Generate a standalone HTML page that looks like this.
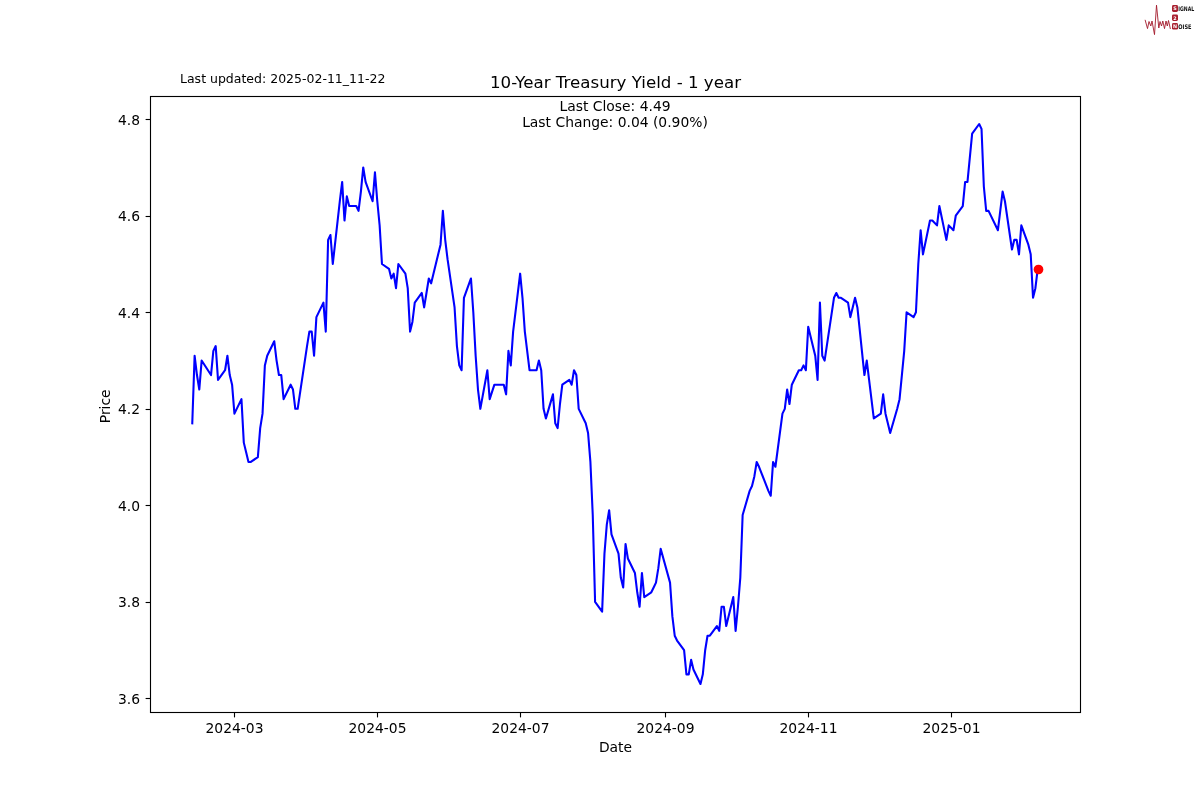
<!DOCTYPE html>
<html lang="en"><head><meta charset="utf-8"><title>10-Year Treasury Yield - 1 year</title>
<style>
html,body{margin:0;padding:0;background:#fff;}
body{width:1200px;height:800px;overflow:hidden;}
svg{display:block;}
text{font-family:"DejaVu Sans","Liberation Sans",sans-serif;fill:#000;}
.t{font-size:13.889px;}
.tt{font-size:16.667px;}
.ts{font-size:12.5px;}
.lg{font-family:"Liberation Sans","DejaVu Sans",sans-serif;font-weight:bold;}
</style></head><body>
<svg width="1200" height="800" viewBox="0 0 1200 800">
<rect x="0" y="0" width="1200" height="800" fill="#fff"/>
<g id="plot"><path d="M192.27 423.31 L194.61 355.72 L196.96 375.03 L199.30 389.52 L201.64 360.55 L211.01 375.03 L213.35 350.90 L215.69 346.07 L218.03 379.86 L225.06 370.21 L227.40 355.72 L229.74 375.03 L232.09 384.69 L234.43 413.66 L241.45 399.17 L243.80 442.62 L246.14 452.28 L248.48 461.93 L250.82 461.93 L257.85 457.10 L260.19 428.14 L262.53 413.66 L264.87 365.38 L267.22 355.72 L274.24 341.24 L276.58 360.55 L278.93 375.03 L281.27 375.03 L283.61 399.17 L290.64 384.69 L292.98 389.52 L295.32 408.83 L297.66 408.83 L307.03 346.07 L309.37 331.59 L311.71 331.59 L314.06 355.72 L316.40 317.10 L323.42 302.62 L325.77 331.59 L328.11 239.86 L330.45 235.03 L332.79 264.00 L339.82 201.24 L342.16 181.93 L344.50 220.55 L346.84 196.41 L349.19 206.07 L356.21 206.07 L358.55 210.90 L360.90 191.59 L363.24 167.45 L365.58 181.93 L372.61 201.24 L374.95 172.28 L377.29 201.24 L379.63 225.38 L381.97 264.00 L389.00 268.83 L391.34 278.48 L393.68 273.66 L396.02 288.14 L398.37 264.00 L405.39 273.66 L407.73 288.14 L410.08 331.59 L412.42 321.93 L414.76 302.62 L421.79 292.97 L424.13 307.45 L426.47 292.97 L428.81 278.48 L431.15 283.31 L440.52 244.69 L442.86 210.90 L445.21 239.86 L447.55 259.17 L454.57 307.45 L456.92 346.07 L459.26 365.38 L461.60 370.21 L463.94 297.79 L470.97 278.48 L473.31 312.28 L475.65 355.72 L477.99 389.52 L480.34 408.83 L487.36 370.21 L489.70 399.17 L494.39 384.69 L496.73 384.69 L503.76 384.69 L506.10 394.34 L508.44 350.90 L510.78 365.38 L513.12 331.59 L520.15 273.66 L522.49 297.79 L524.83 331.59 L529.52 370.21 L536.54 370.21 L538.89 360.55 L541.23 370.21 L543.57 408.83 L545.91 418.48 L552.94 394.34 L555.28 423.31 L557.62 428.14 L559.96 404.00 L562.31 384.69 L569.33 379.86 L571.67 384.69 L574.02 370.21 L576.36 375.03 L578.70 408.83 L585.73 423.31 L588.07 432.97 L590.41 461.93 L592.75 515.03 L595.09 601.93 L602.12 611.59 L604.46 553.66 L606.80 524.69 L609.15 510.21 L611.49 534.34 L618.51 553.66 L620.85 577.79 L623.20 587.45 L625.54 544.00 L627.88 558.48 L634.91 572.97 L637.25 592.28 L639.59 606.76 L641.93 572.97 L644.27 597.10 L651.30 592.28 L653.64 587.45 L655.98 582.62 L658.33 568.14 L660.67 548.83 L670.04 582.62 L672.38 616.41 L674.72 635.72 L677.06 640.55 L684.09 650.21 L686.43 674.34 L688.77 674.34 L691.11 659.86 L693.46 669.52 L700.48 684.00 L702.82 674.34 L705.17 650.21 L707.51 635.72 L709.85 635.72 L716.88 626.07 L719.22 630.90 L721.56 606.76 L723.90 606.76 L726.24 626.07 L733.27 597.10 L735.61 630.90 L737.95 606.76 L740.30 577.79 L742.64 515.03 L749.66 490.90 L752.01 486.07 L754.35 476.41 L756.69 461.93 L759.03 466.76 L768.40 490.90 L770.74 495.72 L773.08 461.93 L775.43 466.76 L782.45 413.66 L784.79 408.83 L787.14 389.52 L789.48 404.00 L791.82 384.69 L798.85 370.21 L801.19 370.21 L803.53 365.38 L805.87 370.21 L808.21 326.76 L815.24 355.72 L817.58 379.86 L819.92 302.62 L822.27 355.72 L824.61 360.55 L833.98 297.79 L836.32 292.97 L838.66 297.79 L841.00 297.79 L848.03 302.62 L850.37 317.10 L852.71 307.45 L855.05 297.79 L857.39 307.45 L864.42 375.03 L866.76 360.55 L869.10 379.86 L873.79 418.48 L880.81 413.66 L883.16 394.34 L885.50 413.66 L887.84 423.31 L890.18 432.97 L897.21 408.83 L899.55 399.17 L901.89 375.03 L904.23 350.90 L906.58 312.28 L913.60 317.10 L915.94 312.28 L918.29 264.00 L920.63 230.21 L922.97 254.34 L930.00 220.55 L932.34 220.55 L937.02 225.38 L939.36 206.07 L946.39 239.86 L948.73 225.38 L953.42 230.21 L955.76 215.72 L962.78 206.07 L965.13 181.93 L967.47 181.93 L972.15 133.66 L979.18 124.00 L981.52 128.83 L983.86 186.76 L986.20 210.90 L988.55 210.90 L997.91 230.21 L1000.26 210.90 L1002.60 191.59 L1004.94 201.24 L1011.97 249.52 L1014.31 239.86 L1016.65 239.86 L1018.99 254.34 L1021.33 225.38 L1028.36 244.69 L1030.70 254.34 L1033.04 297.79 L1035.39 288.14 L1037.73 268.83" fill="none" stroke="#0000ff" stroke-width="2.08" stroke-linejoin="round" stroke-linecap="square"/>
<circle cx="1038.50" cy="269.50" r="4.86" fill="#ff0000"/></g>
<rect x="150.5" y="96.5" width="930" height="616" fill="none" stroke="#000" stroke-width="1.11"/>
<g stroke="#000" stroke-width="1.11"><line x1="145.6" y1="119.5" x2="150.5" y2="119.5"/><line x1="145.6" y1="216.5" x2="150.5" y2="216.5"/><line x1="145.6" y1="312.5" x2="150.5" y2="312.5"/><line x1="145.6" y1="409.5" x2="150.5" y2="409.5"/><line x1="145.6" y1="505.5" x2="150.5" y2="505.5"/><line x1="145.6" y1="602.5" x2="150.5" y2="602.5"/><line x1="145.6" y1="698.5" x2="150.5" y2="698.5"/><line x1="234.5" y1="712.5" x2="234.5" y2="717.4"/><line x1="377.5" y1="712.5" x2="377.5" y2="717.4"/><line x1="520.5" y1="712.5" x2="520.5" y2="717.4"/><line x1="665.5" y1="712.5" x2="665.5" y2="717.4"/><line x1="808.5" y1="712.5" x2="808.5" y2="717.4"/><line x1="951.5" y1="712.5" x2="951.5" y2="717.4"/></g>
<g class="t" text-anchor="end"><text x="140.10" y="124.60">4.8</text><text x="140.10" y="220.60">4.6</text><text x="140.10" y="317.60">4.4</text><text x="140.10" y="413.60">4.2</text><text x="140.10" y="510.60">4.0</text><text x="140.10" y="606.60">3.8</text><text x="140.10" y="703.60">3.6</text></g>
<g class="t" text-anchor="middle"><text x="234.50" y="732.60">2024-03</text><text x="377.50" y="732.60">2024-05</text><text x="520.50" y="732.60">2024-07</text><text x="665.50" y="732.60">2024-09</text><text x="808.50" y="732.60">2024-11</text><text x="951.50" y="732.60">2025-01</text><text x="615.50" y="751.60">Date</text><text transform="translate(110.00 406.30) rotate(-90)">Price</text><text x="615.00" y="110.90">Last Close: 4.49</text><text x="615.00" y="127.20">Last Change: 0.04 (0.90%)</text></g>
<text class="tt" text-anchor="middle" x="615.50" y="88.00">10-Year Treasury Yield - 1 year</text>
<text class="ts" x="180.00" y="83.00">Last updated: 2025-02-11_11-22</text>
<g id="logo">
<path d="M1145.2 20.2 L1147.5 28.6 L1149 21.5 L1150.8 26 L1152 21 L1154.5 34.6 L1156.5 5.2 L1158.8 28 L1160 21.5 L1161.5 26 L1162.8 21 L1164.5 28.6 L1166 21 L1167.3 26 L1168.5 20.5 L1170.3 28.6" fill="none" stroke="#a3192b" stroke-width="1" stroke-linejoin="round" stroke-linecap="round" opacity="0.9"/>
<rect x="1172" y="5.1" width="6" height="6.9" rx="1.4" fill="#a8202f"/>
<rect x="1172" y="14.4" width="6" height="6.6" rx="1.4" fill="#a8202f"/>
<rect x="1172" y="23" width="6" height="6.6" rx="1.4" fill="#a8202f"/>
<g class="lg" font-size="4.8px" text-anchor="middle">
<text x="1175" y="10.4" style="fill:#fff">S</text>
<text x="1175" y="19.5" style="fill:#fff">2</text>
<text x="1175" y="28.1" style="fill:#fff">N</text>
</g>
<g class="lg" font-size="6.3px">
<text x="1178.3" y="11.3" textLength="15.9" lengthAdjust="spacingAndGlyphs" style="fill:#111">IGNAL</text>
<text x="1178.3" y="28.8" textLength="13.2" lengthAdjust="spacingAndGlyphs" style="fill:#111">OISE</text>
</g>
</g>
</svg>
</body></html>
